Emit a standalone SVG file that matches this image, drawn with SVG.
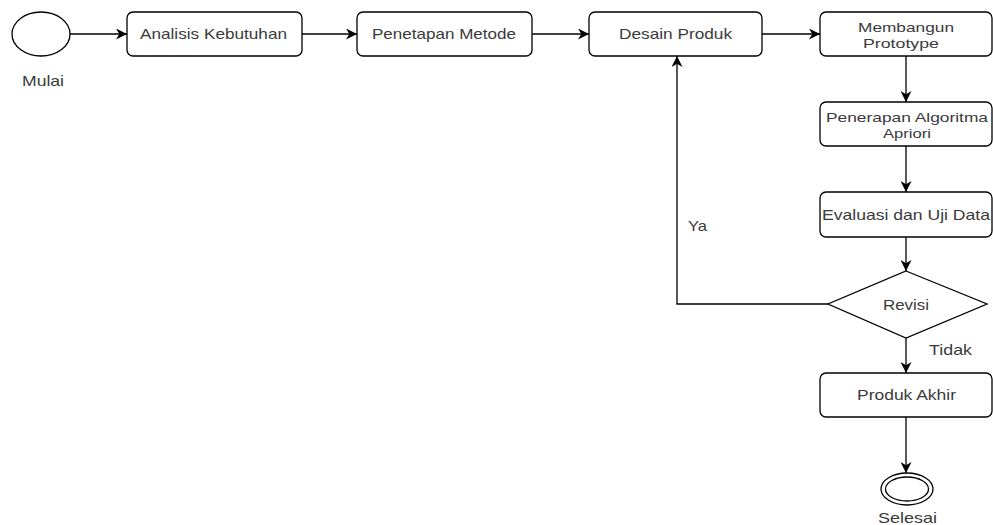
<svg xmlns="http://www.w3.org/2000/svg" width="993" height="525" viewBox="0 0 993 525">
<defs>
<style>
.box{fill:#fff;stroke:#000;stroke-width:1.3}
.t{font-family:"Liberation Sans",Arial,sans-serif;font-size:14.5px;fill:#3a3a3a;text-anchor:middle}
.t2{font-size:13px}
.c{fill:none;stroke:#000;stroke-width:1.3}
</style>
<marker id="ah" viewBox="0 0 10 10" refX="10" refY="5" markerWidth="11" markerHeight="11" markerUnits="userSpaceOnUse" orient="auto">
<path d="M0,0 L10,5 L0,10 L3,5 Z" fill="#000"/>
</marker>
</defs>
<rect width="993" height="525" fill="#fff"/>
<g id="connectors">
<line class="c" x1="70" y1="34" x2="127" y2="34" marker-end="url(#ah)"/>
<line class="c" x1="302" y1="34" x2="357" y2="34" marker-end="url(#ah)"/>
<line class="c" x1="532" y1="34" x2="589" y2="34" marker-end="url(#ah)"/>
<line class="c" x1="762" y1="34" x2="820" y2="34" marker-end="url(#ah)"/>
<line class="c" x1="906" y1="56" x2="906" y2="102" marker-end="url(#ah)"/>
<line class="c" x1="906" y1="146" x2="906" y2="192" marker-end="url(#ah)"/>
<line class="c" x1="906" y1="237" x2="906" y2="271" marker-end="url(#ah)"/>
<polyline class="c" points="828,304 677,304 677,56" marker-end="url(#ah)"/>
<line class="c" x1="906" y1="338" x2="906" y2="373" marker-end="url(#ah)"/>
<line class="c" x1="906" y1="417" x2="906" y2="473" marker-end="url(#ah)"/>
<text class="t" x="697.5" y="231" textLength="19" lengthAdjust="spacingAndGlyphs">Ya</text>
<text class="t" x="950.5" y="355" textLength="43" lengthAdjust="spacingAndGlyphs">Tidak</text>
</g>
<g id="mulai">
<ellipse class="box" cx="41" cy="34" rx="29" ry="22"/>
<text class="t" x="43" y="86" textLength="42" lengthAdjust="spacingAndGlyphs">Mulai</text>
</g>
<g id="analisis">
<rect class="box" x="127" y="12" width="175" height="44" rx="6"/>
<text class="t" x="213.5" y="39" textLength="147" lengthAdjust="spacingAndGlyphs">Analisis Kebutuhan</text>
</g>
<g id="penetapan">
<rect class="box" x="357" y="12" width="175" height="44" rx="6"/>
<text class="t" x="444" y="39" textLength="144" lengthAdjust="spacingAndGlyphs">Penetapan Metode</text>
</g>
<g id="desain">
<rect class="box" x="589" y="12" width="173" height="44" rx="6"/>
<text class="t" x="675.5" y="39" textLength="113" lengthAdjust="spacingAndGlyphs">Desain Produk</text>
</g>
<g id="membangun">
<rect class="box" x="820" y="12" width="172" height="44" rx="6"/>
<text class="t t2" x="906" y="32" textLength="96" lengthAdjust="spacingAndGlyphs">Membangun</text>
<text class="t t2" x="901" y="48" textLength="76" lengthAdjust="spacingAndGlyphs">Prototype</text>
</g>
<g id="penerapan">
<rect class="box" x="820" y="102" width="172" height="44" rx="6"/>
<text class="t t2" x="907" y="122" textLength="162" lengthAdjust="spacingAndGlyphs">Penerapan Algoritma</text>
<text class="t t2" x="907" y="138" textLength="48" lengthAdjust="spacingAndGlyphs">Apriori</text>
</g>
<g id="evaluasi">
<rect class="box" x="820" y="192" width="172" height="45" rx="6"/>
<text class="t" x="906" y="220" textLength="168" lengthAdjust="spacingAndGlyphs">Evaluasi dan Uji Data</text>
</g>
<g id="revisi">
<polygon class="box" points="906,271 987,304 906,338 828,304"/>
<text class="t" x="906" y="310" textLength="46" lengthAdjust="spacingAndGlyphs">Revisi</text>
</g>
<g id="produk-akhir">
<rect class="box" x="820" y="373" width="172" height="44" rx="6"/>
<text class="t" x="906.5" y="400" textLength="99" lengthAdjust="spacingAndGlyphs">Produk Akhir</text>
</g>
<g id="selesai">
<ellipse class="box" cx="907" cy="489" rx="26" ry="16"/>
<ellipse class="box" cx="907" cy="489" rx="21.5" ry="12"/>
<text class="t" x="907.5" y="523" textLength="59" lengthAdjust="spacingAndGlyphs">Selesai</text>
</g>
</svg>
